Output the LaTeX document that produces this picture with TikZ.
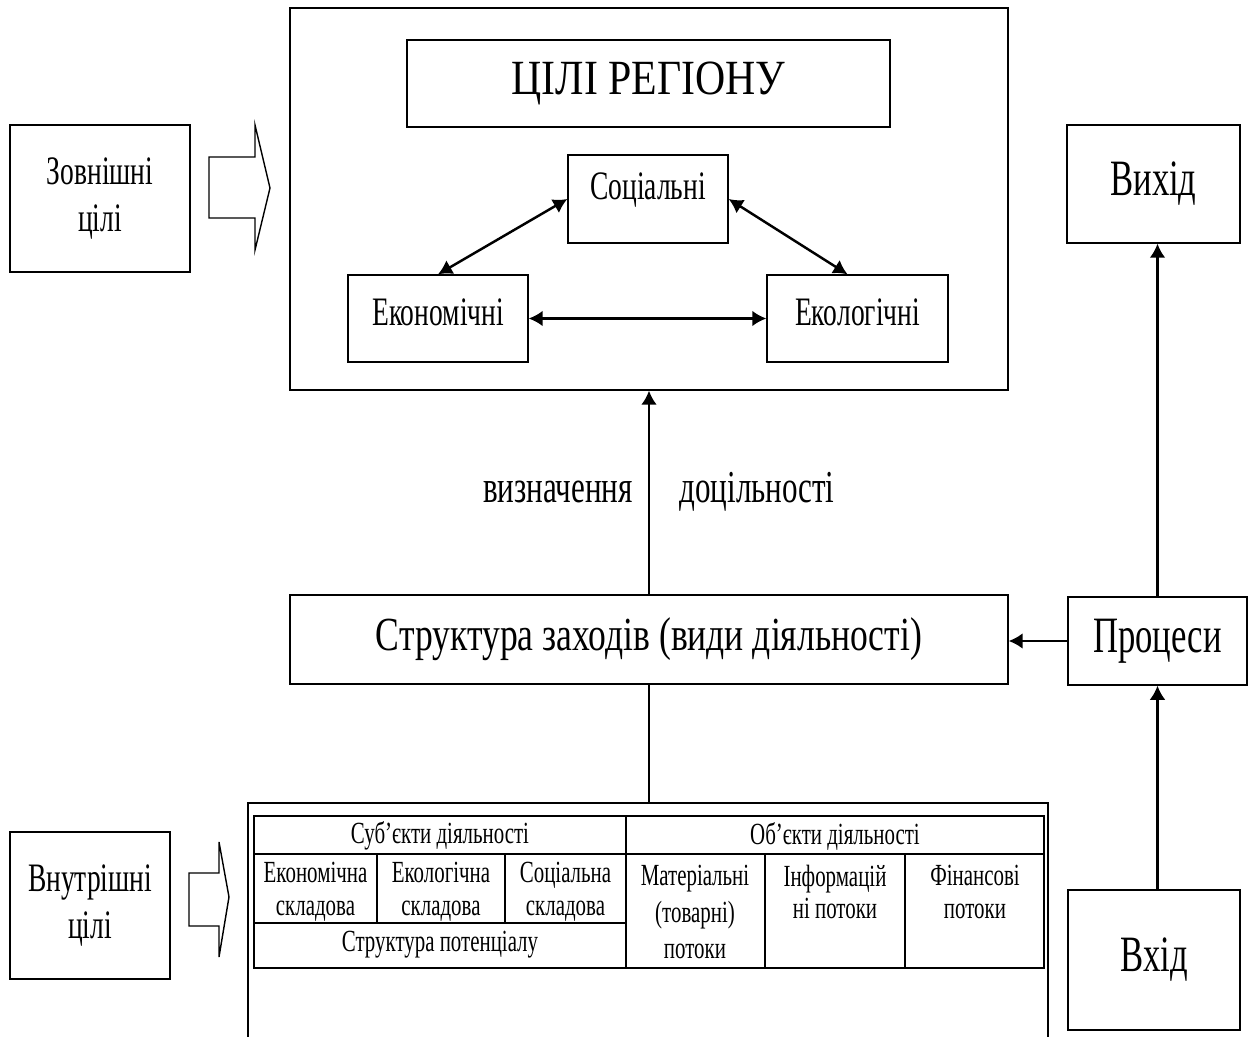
\documentclass[tikz,border=0pt]{standalone}
\usepackage{fontspec}
\setmainfont[FakeStretch=0.68]{Liberation Serif}
\newfontfamily\titlefont[FakeStretch=0.85]{Liberation Serif}
\newfontfamily\structfont[FakeStretch=0.75]{Liberation Serif}
\usetikzlibrary{arrows.meta}

\tikzset{
  box/.style={draw, line width=0.8pt, inner sep=0pt},
  conn/.style={line width=1.4pt, -{Latex[length=8pt,width=9pt]}},
  both/.style={line width=1.4pt, {Latex[length=8pt,width=9pt]}-{Latex[length=8pt,width=9pt]}},
  hollow/.style={draw, line width=0.8pt, fill=white},
  big/.style={font=\fontsize{26}{30}\selectfont},
  huge/.style={font=\fontsize{29}{33}\selectfont},
  mid/.style={font=\fontsize{23}{27}\selectfont, align=center},
  small/.style={font=\fontsize{17.5}{18.7}\selectfont, align=center}
}

\begin{document}
\begin{tikzpicture}[x=0.02cm, y=-0.02cm]
      \useasboundingbox (0,0) rectangle (1248,1037);
      % goals of the region
      \node[box, minimum width=14.36cm, minimum height=7.64cm] (region) at (649,199) {};
      \node[box, font=\titlefont\fontsize{28}{32}\selectfont, minimum width=9.66cm, minimum height=1.74cm] (goals) at (648.5,83.5) {ЦІЛІ РЕГІОНУ};
      \node[box, minimum width=3.2cm, minimum height=1.76cm] (soc) at (648,199) {};
      \node[mid] (socT) at (648,190) {Соціальні};
      \node[box, minimum width=3.6cm, minimum height=1.74cm] (econ) at (438,318.5) {};
      \node[mid] (econT) at (438,312) {Економічні};
      \node[box, minimum width=3.62cm, minimum height=1.74cm] (ecol) at (857.5,318.5) {};
      \node[mid] (ecolT) at (857.5,312) {Екологічні};
      \draw[both] (econ.north) -- (soc.west);
      \draw[both] (soc.east) -- ([xshift=-0.2cm]ecol.north);
      \draw[both] (econ.east) -- (ecol.west);

      % outer goals
      \node[box, mid, minimum width=3.6cm, minimum height=2.94cm] (ext) at (100,198.5) {Зовнішні\\цілі};
      \draw[hollow] (209,157) -- (255,157) -- (255,125) -- (270,188) -- (255,250) -- (255,218) -- (209,218) -- cycle;

      % measures
      \node[box, font=\structfont\fontsize{27}{31}\selectfont, minimum width=14.36cm, minimum height=1.78cm] (struct) at (649,639.5) {Структура заходів (види діяльності)};
      \draw[conn] (struct.north) -- (region.south);
      \node[big] (def) at (558,492) {визначення};
      \node[big] (fit) at (757,492) {доцільності};

      % input, processes, output
      \node[box, huge, minimum width=3.46cm, minimum height=2.36cm] (out) at (1153.5,184) {Вихід};
      \node[box, huge, minimum width=3.58cm, minimum height=1.76cm] (proc) at (1157.5,641) {Процеси};
      \node[box, huge, minimum width=3.44cm, minimum height=2.8cm] (in) at (1154,960) {Вхід};
      \draw[conn] (proc.west) -- (proc.west -| struct.east);
      \draw[conn] (proc.north) -- (proc.north |- out.south);
      \draw[conn] (proc.south |- in.north) -- (proc.south);

      % inner goals
      \node[box, mid, minimum width=3.2cm, minimum height=2.94cm] (int) at (90,905.5) {Внутрішні\\цілі};
      \draw[hollow] (189,873) -- (219,873) -- (219,842) -- (229,897) -- (219,957) -- (219,926) -- (189,926) -- cycle;

      % potential
      \coordinate (pot) at (649,803);
      \draw[line width=0.8pt] (248,1037) -- (248,803) -- (1048,803) -- (1048,1037);
      \draw[line width=0.8pt] (struct.south) -- (pot);
      \draw[line width=1.6pt] (254,816) rectangle (1044,968);
      \draw[line width=1.6pt] (254,854) -- (1044,854);
      \draw[line width=1.6pt] (254,923) -- (626,923);
      \draw[line width=0.8pt] (626,816) -- (626,968);
      \foreach \x in {377,505}{
      \draw[line width=0.8pt] (\x,854) -- (\x,923);
      }
      \foreach \x in {765,905}{
      \draw[line width=0.8pt] (\x,854) -- (\x,968);
      }
      \node[small] (subj) at (440,836) {Суб’єкти діяльності};
      \node[small] (obj) at (835,836) {Об’єкти діяльності};
      \node[small] (ecS) at (315.5,892) {Економічна\\складова};
      \node[small] (elS) at (441,892) {Екологічна\\складова};
      \node[small] (soS) at (565.5,892) {Соціальна\\складова};
      \node[small] (potS) at (440,945) {Структура потенціалу};
      \node[small, font=\fontsize{17.5}{21}\selectfont] (mat) at (695,912) {Матеріальні\\(товарні)\\потоки};
      \node[small] (inf) at (835,892) {Інформацій\\ні потоки};
      \node[small] (fin) at (975,892) {Фінансові\\потоки};
\end{tikzpicture}
\end{document}
